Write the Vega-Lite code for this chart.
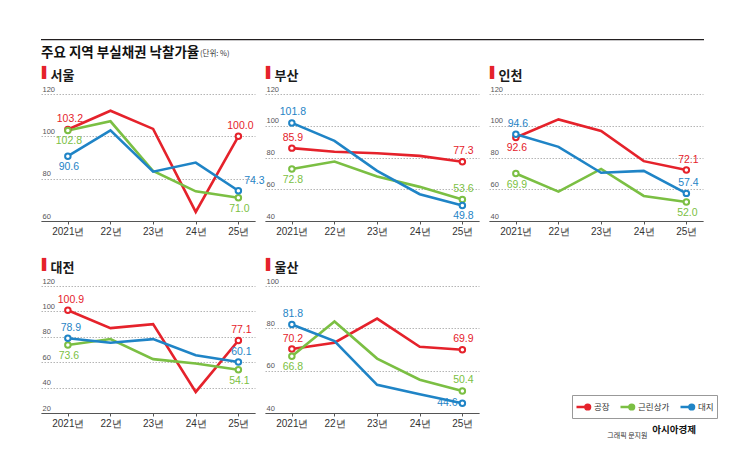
{
  "$schema": "https://vega.github.io/schema/vega-lite/v6.json",
  "background": "white",
  "padding": {"left": 41, "top": 39, "right": 0, "bottom": 0},
  "datasets": {
    "rates": [
      {"city": "서울", "type": "공장", "yr": 2021, "value": 103.2},
      {"city": "서울", "type": "공장", "yr": 2022, "value": 112.1},
      {"city": "서울", "type": "공장", "yr": 2023, "value": 103.5},
      {"city": "서울", "type": "공장", "yr": 2024, "value": 64.3},
      {"city": "서울", "type": "공장", "yr": 2025, "value": 100.0},
      {"city": "서울", "type": "근린상가", "yr": 2021, "value": 102.8},
      {"city": "서울", "type": "근린상가", "yr": 2022, "value": 107.1},
      {"city": "서울", "type": "근린상가", "yr": 2023, "value": 83.6},
      {"city": "서울", "type": "근린상가", "yr": 2024, "value": 74.0},
      {"city": "서울", "type": "근린상가", "yr": 2025, "value": 71.0},
      {"city": "서울", "type": "대지", "yr": 2021, "value": 90.6},
      {"city": "서울", "type": "대지", "yr": 2022, "value": 102.8},
      {"city": "서울", "type": "대지", "yr": 2023, "value": 83.3},
      {"city": "서울", "type": "대지", "yr": 2024, "value": 87.6},
      {"city": "서울", "type": "대지", "yr": 2025, "value": 74.3},
      {"city": "부산", "type": "공장", "yr": 2021, "value": 85.9},
      {"city": "부산", "type": "공장", "yr": 2022, "value": 83.6},
      {"city": "부산", "type": "공장", "yr": 2023, "value": 82.7},
      {"city": "부산", "type": "공장", "yr": 2024, "value": 81.0},
      {"city": "부산", "type": "공장", "yr": 2025, "value": 77.3},
      {"city": "부산", "type": "근린상가", "yr": 2021, "value": 72.8},
      {"city": "부산", "type": "근린상가", "yr": 2022, "value": 77.5},
      {"city": "부산", "type": "근린상가", "yr": 2023, "value": 68.1},
      {"city": "부산", "type": "근린상가", "yr": 2024, "value": 61.5},
      {"city": "부산", "type": "근린상가", "yr": 2025, "value": 53.6},
      {"city": "부산", "type": "대지", "yr": 2021, "value": 101.8},
      {"city": "부산", "type": "대지", "yr": 2022, "value": 90.5},
      {"city": "부산", "type": "대지", "yr": 2023, "value": 71.6},
      {"city": "부산", "type": "대지", "yr": 2024, "value": 56.9},
      {"city": "부산", "type": "대지", "yr": 2025, "value": 49.8},
      {"city": "인천", "type": "공장", "yr": 2021, "value": 92.6},
      {"city": "인천", "type": "공장", "yr": 2022, "value": 104.0},
      {"city": "인천", "type": "공장", "yr": 2023, "value": 96.7},
      {"city": "인천", "type": "공장", "yr": 2024, "value": 77.7},
      {"city": "인천", "type": "공장", "yr": 2025, "value": 72.1},
      {"city": "인천", "type": "근린상가", "yr": 2021, "value": 69.9},
      {"city": "인천", "type": "근린상가", "yr": 2022, "value": 58.5},
      {"city": "인천", "type": "근린상가", "yr": 2023, "value": 72.8},
      {"city": "인천", "type": "근린상가", "yr": 2024, "value": 55.8},
      {"city": "인천", "type": "근린상가", "yr": 2025, "value": 52.0},
      {"city": "인천", "type": "대지", "yr": 2021, "value": 94.6},
      {"city": "인천", "type": "대지", "yr": 2022, "value": 86.7},
      {"city": "인천", "type": "대지", "yr": 2023, "value": 70.4},
      {"city": "인천", "type": "대지", "yr": 2024, "value": 71.6},
      {"city": "인천", "type": "대지", "yr": 2025, "value": 57.4},
      {"city": "대전", "type": "공장", "yr": 2021, "value": 100.9},
      {"city": "대전", "type": "공장", "yr": 2022, "value": 86.8},
      {"city": "대전", "type": "공장", "yr": 2023, "value": 90.0},
      {"city": "대전", "type": "공장", "yr": 2024, "value": 36.6},
      {"city": "대전", "type": "공장", "yr": 2025, "value": 77.1},
      {"city": "대전", "type": "근린상가", "yr": 2021, "value": 73.6},
      {"city": "대전", "type": "근린상가", "yr": 2022, "value": 78.2},
      {"city": "대전", "type": "근린상가", "yr": 2023, "value": 62.4},
      {"city": "대전", "type": "근린상가", "yr": 2024, "value": 59.0},
      {"city": "대전", "type": "근린상가", "yr": 2025, "value": 54.1},
      {"city": "대전", "type": "대지", "yr": 2021, "value": 78.9},
      {"city": "대전", "type": "대지", "yr": 2022, "value": 75.3},
      {"city": "대전", "type": "대지", "yr": 2023, "value": 78.2},
      {"city": "대전", "type": "대지", "yr": 2024, "value": 65.5},
      {"city": "대전", "type": "대지", "yr": 2025, "value": 60.1},
      {"city": "울산", "type": "공장", "yr": 2021, "value": 70.2},
      {"city": "울산", "type": "공장", "yr": 2022, "value": 73.2},
      {"city": "울산", "type": "공장", "yr": 2023, "value": 84.6},
      {"city": "울산", "type": "공장", "yr": 2024, "value": 71.3},
      {"city": "울산", "type": "공장", "yr": 2025, "value": 69.9},
      {"city": "울산", "type": "근린상가", "yr": 2021, "value": 66.8},
      {"city": "울산", "type": "근린상가", "yr": 2022, "value": 83.2},
      {"city": "울산", "type": "근린상가", "yr": 2023, "value": 65.7},
      {"city": "울산", "type": "근린상가", "yr": 2024, "value": 55.7},
      {"city": "울산", "type": "근린상가", "yr": 2025, "value": 50.4},
      {"city": "울산", "type": "대지", "yr": 2021, "value": 81.8},
      {"city": "울산", "type": "대지", "yr": 2022, "value": 74.0},
      {"city": "울산", "type": "대지", "yr": 2023, "value": 53.3},
      {"city": "울산", "type": "대지", "yr": 2024, "value": 48.9},
      {"city": "울산", "type": "대지", "yr": 2025, "value": 44.6}
    ]
  },
  "config": {
    "font": "Noto Sans CJK KR",
    "view": {"stroke": null},
    "title": {"anchor": "start", "font": "Noto Sans CJK KR", "fontSize": 13, "fontWeight": "bold", "color": "#1a1a1a", "offset": -17, "dx": 9.5},
    "axisX": {"title": null, "grid": false, "domainColor": "#555", "domainWidth": 1, "tickColor": "#555", "tickSize": 3, "labelFont": "Liberation Sans", "labelFontSize": 10, "labelColor": "#333", "labelPadding": 2, "labelFlush": false, "labelOverlap": false},
    "axisY": {"domain": false, "ticks": false, "grid": true, "gridColor": "#b5b5b5", "gridDash": [1.5, 1.5], "gridWidth": 1, "labelAlign": "left", "labelBaseline": "alphabetic", "labelPadding": -1, "labelOffset": -3, "labelFont": "Liberation Sans", "labelFontSize": 7.5, "labelColor": "#555", "labelFlush": false, "labelOverlap": false, "titleFont": "DejaVu Sans", "titleFontSize": 11, "titleFontWeight": "normal", "titleColor": "#e5222b", "titleAngle": 0, "titleAlign": "left", "titleBaseline": "middle", "titleX": 0.5, "titleY": -22},
    "line": {"strokeWidth": 2.6},
    "text": {"font": "Liberation Sans", "fontSize": 10.5}
  },
  "title": {"text": "그래픽 문지원", "orient": "bottom", "anchor": "end", "fontSize": 7, "fontWeight": "normal", "color": "#333", "offset": -3, "dx": -70},
  "spacing": 6,
  "vconcat": [
    {
      "spacing": 0,
      "bounds": "flush",
      "hconcat": [
        {"width": 158, "height": 1.2, "view": {"fill": "#231f20", "stroke": null}, "data": {"values": []}, "mark": "point", "encoding": {},
         "title": {"text": "주요 지역 부실채권 낙찰가율", "orient": "bottom", "anchor": "start", "offset": 6, "dx": 0, "fontSize": 13.5, "fontWeight": "bold", "color": "#111"}},
        {"width": 505, "height": 1.2, "view": {"fill": "#231f20", "stroke": null}, "data": {"values": []}, "mark": "point", "encoding": {},
         "title": {"text": "(단위: %)", "orient": "bottom", "anchor": "start", "offset": 10, "dx": 1, "fontSize": 7.5, "fontWeight": "normal", "color": "#333"}}
      ]
    },
    {
      "columns": 3,
      "bounds": "flush",
      "spacing": {"row": 65, "column": 10},
      "concat": [
        {
          "width": 214, "height": 127, "title": "서울",
          "data": {"name": "rates"},
          "transform": [{"filter": "datum.city == '서울'"}],
          "encoding": {
            "x": {"field": "yr", "type": "quantitative", "scale": {"domain": [2020.37, 2025.39], "nice": false, "zero": false}, "axis": {"values": [2021, 2022, 2023, 2024, 2025], "title": null, "labelExpr": "datum.value == 2021 ? '2021년' : (datum.value - 2000) + '년'"}},
            "y": {"field": "value", "type": "quantitative", "scale": {"domain": [60, 120], "nice": false, "zero": false}, "axis": {"values": [60, 80, 100, 120], "title": "▌"}},
            "color": {"field": "type", "type": "nominal", "scale": {"domain": ["공장", "근린상가", "대지"], "range": ["#e5222b", "#7bbf43", "#1f84c6"]},
              "legend": {"title": null, "orient": "none", "legendX": 531, "legendY": 356, "direction": "horizontal", "strokeColor": "#999", "padding": 3, "symbolType": "M-1,0L0.27,0M0.93,0A0.33,0.33 0 1 1 0.27,0A0.33,0.33 0 1 1 0.93,0", "symbolSize": 196, "symbolStrokeWidth": 2, "symbolFillColor": "white", "labelFont": "Noto Sans CJK KR", "labelFontSize": 8.5, "labelColor": "#333", "labelOffset": 2, "columnPadding": 5}}
          },
          "layer": [
            {"mark": {"type": "line"}},
            {"transform": [{"filter": "datum.yr == 2021 || datum.yr == 2025"}], "mark": {"type": "point", "shape": "circle", "filled": false, "fill": "white", "fillOpacity": 1, "opacity": 1, "size": 30, "strokeWidth": 2}},
            {"transform": [{"filter": "(datum.yr == 2021 || datum.yr == 2025) && datum.type == '공장'"}], "mark": {"type": "text", "dy": -10.5, "dx": 2}, "encoding": {"text": {"field": "value", "type": "quantitative", "format": ".1f"}}},
            {"transform": [{"filter": "(datum.yr == 2021 || datum.yr == 2025) && (datum.type == '근린상가' || (datum.type == '대지' && datum.yr == 2021))"}], "mark": {"type": "text", "dy": 11, "dx": 1}, "encoding": {"text": {"field": "value", "type": "quantitative", "format": ".1f"}}},
            {"transform": [{"filter": "datum.yr == 2025 && datum.type == '대지'"}], "mark": {"type": "text", "dy": -10, "dx": 16}, "encoding": {"text": {"field": "value", "type": "quantitative", "format": ".1f"}}}
          ]
        },
        {
          "width": 214, "height": 127, "title": "부산",
          "data": {"name": "rates"},
          "transform": [{"filter": "datum.city == '부산'"}],
          "encoding": {
            "x": {"field": "yr", "type": "quantitative", "scale": {"domain": [2020.37, 2025.39], "nice": false, "zero": false}, "axis": {"values": [2021, 2022, 2023, 2024, 2025], "title": null, "labelExpr": "datum.value == 2021 ? '2021년' : (datum.value - 2000) + '년'"}},
            "y": {"field": "value", "type": "quantitative", "scale": {"domain": [40, 120], "nice": false, "zero": false}, "axis": {"values": [40, 60, 80, 100, 120], "title": "▌"}},
            "color": {"field": "type", "type": "nominal", "scale": {"domain": ["공장", "근린상가", "대지"], "range": ["#e5222b", "#7bbf43", "#1f84c6"]},
              "legend": {"title": null, "orient": "none", "legendX": 531, "legendY": 356, "direction": "horizontal", "strokeColor": "#999", "padding": 3, "symbolType": "M-1,0L0.27,0M0.93,0A0.33,0.33 0 1 1 0.27,0A0.33,0.33 0 1 1 0.93,0", "symbolSize": 196, "symbolStrokeWidth": 2, "symbolFillColor": "white", "labelFont": "Noto Sans CJK KR", "labelFontSize": 8.5, "labelColor": "#333", "labelOffset": 2, "columnPadding": 5}}
          },
          "layer": [
            {"mark": {"type": "line"}},
            {"transform": [{"filter": "datum.yr == 2021 || datum.yr == 2025"}], "mark": {"type": "point", "shape": "circle", "filled": false, "fill": "white", "fillOpacity": 1, "opacity": 1, "size": 30, "strokeWidth": 2}},
            {"transform": [{"filter": "(datum.yr == 2021 || datum.yr == 2025) && !(datum.type == '근린상가' && datum.yr == 2021) && !(datum.type == '대지' && datum.yr == 2025)"}], "mark": {"type": "text", "dy": -10.5, "dx": 1}, "encoding": {"text": {"field": "value", "type": "quantitative", "format": ".1f"}}},
            {"transform": [{"filter": "(datum.type == '근린상가' && datum.yr == 2021) || (datum.type == '대지' && datum.yr == 2025)"}], "mark": {"type": "text", "dy": 11, "dx": 1}, "encoding": {"text": {"field": "value", "type": "quantitative", "format": ".1f"}}}
          ]
        },
        {
          "width": 214, "height": 127, "title": "인천",
          "data": {"name": "rates"},
          "transform": [{"filter": "datum.city == '인천'"}],
          "encoding": {
            "x": {"field": "yr", "type": "quantitative", "scale": {"domain": [2020.37, 2025.39], "nice": false, "zero": false}, "axis": {"values": [2021, 2022, 2023, 2024, 2025], "title": null, "labelExpr": "datum.value == 2021 ? '2021년' : (datum.value - 2000) + '년'"}},
            "y": {"field": "value", "type": "quantitative", "scale": {"domain": [40, 120], "nice": false, "zero": false}, "axis": {"values": [40, 60, 80, 100, 120], "title": "▌"}},
            "color": {"field": "type", "type": "nominal", "scale": {"domain": ["공장", "근린상가", "대지"], "range": ["#e5222b", "#7bbf43", "#1f84c6"]},
              "legend": {"title": null, "orient": "none", "legendX": 531, "legendY": 356, "direction": "horizontal", "strokeColor": "#999", "padding": 3, "symbolType": "M-1,0L0.27,0M0.93,0A0.33,0.33 0 1 1 0.27,0A0.33,0.33 0 1 1 0.93,0", "symbolSize": 196, "symbolStrokeWidth": 2, "symbolFillColor": "white", "labelFont": "Noto Sans CJK KR", "labelFontSize": 8.5, "labelColor": "#333", "labelOffset": 2, "columnPadding": 5}}
          },
          "layer": [
            {"mark": {"type": "line"}},
            {"transform": [{"filter": "datum.yr == 2021 || datum.yr == 2025"}], "mark": {"type": "point", "shape": "circle", "filled": false, "fill": "white", "fillOpacity": 1, "opacity": 1, "size": 30, "strokeWidth": 2}},
            {"transform": [{"filter": "(datum.yr == 2021 || datum.yr == 2025) && (datum.type == '대지' || (datum.type == '공장' && datum.yr == 2025))"}], "mark": {"type": "text", "dy": -10.5, "dx": 2}, "encoding": {"text": {"field": "value", "type": "quantitative", "format": ".1f"}}},
            {"transform": [{"filter": "(datum.yr == 2021 || datum.yr == 2025) && (datum.type == '근린상가' || (datum.type == '공장' && datum.yr == 2021))"}], "mark": {"type": "text", "dy": 11, "dx": 1}, "encoding": {"text": {"field": "value", "type": "quantitative", "format": ".1f"}}}
          ]
        },
        {
          "width": 214, "height": 127, "title": "대전",
          "data": {"name": "rates"},
          "transform": [{"filter": "datum.city == '대전'"}],
          "encoding": {
            "x": {"field": "yr", "type": "quantitative", "scale": {"domain": [2020.37, 2025.39], "nice": false, "zero": false}, "axis": {"values": [2021, 2022, 2023, 2024, 2025], "title": null, "labelExpr": "datum.value == 2021 ? '2021년' : (datum.value - 2000) + '년'"}},
            "y": {"field": "value", "type": "quantitative", "scale": {"domain": [20, 120], "nice": false, "zero": false}, "axis": {"values": [20, 40, 60, 80, 100, 120], "title": "▌"}},
            "color": {"field": "type", "type": "nominal", "scale": {"domain": ["공장", "근린상가", "대지"], "range": ["#e5222b", "#7bbf43", "#1f84c6"]},
              "legend": {"title": null, "orient": "none", "legendX": 531, "legendY": 356, "direction": "horizontal", "strokeColor": "#999", "padding": 3, "symbolType": "M-1,0L0.27,0M0.93,0A0.33,0.33 0 1 1 0.27,0A0.33,0.33 0 1 1 0.93,0", "symbolSize": 196, "symbolStrokeWidth": 2, "symbolFillColor": "white", "labelFont": "Noto Sans CJK KR", "labelFontSize": 8.5, "labelColor": "#333", "labelOffset": 2, "columnPadding": 5}}
          },
          "layer": [
            {"mark": {"type": "line"}},
            {"transform": [{"filter": "datum.yr == 2021 || datum.yr == 2025"}], "mark": {"type": "point", "shape": "circle", "filled": false, "fill": "white", "fillOpacity": 1, "opacity": 1, "size": 30, "strokeWidth": 2}},
            {"transform": [{"filter": "(datum.yr == 2021 || datum.yr == 2025) && datum.type != '근린상가'"}], "mark": {"type": "text", "dy": -10.5, "dx": 3}, "encoding": {"text": {"field": "value", "type": "quantitative", "format": ".1f"}}},
            {"transform": [{"filter": "(datum.yr == 2021 || datum.yr == 2025) && datum.type == '근린상가'"}], "mark": {"type": "text", "dy": 11, "dx": 1}, "encoding": {"text": {"field": "value", "type": "quantitative", "format": ".1f"}}}
          ]
        },
        {
          "width": 214, "height": 127, "title": "울산",
          "data": {"name": "rates"},
          "transform": [{"filter": "datum.city == '울산'"}],
          "encoding": {
            "x": {"field": "yr", "type": "quantitative", "scale": {"domain": [2020.37, 2025.39], "nice": false, "zero": false}, "axis": {"values": [2021, 2022, 2023, 2024, 2025], "title": null, "labelExpr": "datum.value == 2021 ? '2021년' : (datum.value - 2000) + '년'"}},
            "y": {"field": "value", "type": "quantitative", "scale": {"domain": [40, 100], "nice": false, "zero": false}, "axis": {"values": [40, 60, 80, 100], "title": "▌"}},
            "color": {"field": "type", "type": "nominal", "scale": {"domain": ["공장", "근린상가", "대지"], "range": ["#e5222b", "#7bbf43", "#1f84c6"]},
              "legend": {"title": null, "orient": "none", "legendX": 531, "legendY": 356, "direction": "horizontal", "strokeColor": "#999", "padding": 3, "symbolType": "M-1,0L0.27,0M0.93,0A0.33,0.33 0 1 1 0.27,0A0.33,0.33 0 1 1 0.93,0", "symbolSize": 196, "symbolStrokeWidth": 2, "symbolFillColor": "white", "labelFont": "Noto Sans CJK KR", "labelFontSize": 8.5, "labelColor": "#333", "labelOffset": 2, "columnPadding": 5}}
          },
          "layer": [
            {"mark": {"type": "line"}},
            {"transform": [{"filter": "datum.yr == 2021 || datum.yr == 2025"}], "mark": {"type": "point", "shape": "circle", "filled": false, "fill": "white", "fillOpacity": 1, "opacity": 1, "size": 30, "strokeWidth": 2}},
            {"transform": [{"filter": "(datum.yr == 2021 || datum.yr == 2025) && (datum.type == '공장' || (datum.type == '근린상가' && datum.yr == 2025) || (datum.type == '대지' && datum.yr == 2021))"}], "mark": {"type": "text", "dy": -10.5, "dx": 1}, "encoding": {"text": {"field": "value", "type": "quantitative", "format": ".1f"}}},
            {"transform": [{"filter": "datum.type == '근린상가' && datum.yr == 2021"}], "mark": {"type": "text", "dy": 11, "dx": 1}, "encoding": {"text": {"field": "value", "type": "quantitative", "format": ".1f"}}},
            {"transform": [{"filter": "datum.type == '대지' && datum.yr == 2025"}], "mark": {"type": "text", "dy": 0, "dx": -15}, "encoding": {"text": {"field": "value", "type": "quantitative", "format": ".1f"}}}
          ]
        },
        {
          "width": 214, "height": 127,
          "data": {"values": []}, "mark": "point", "encoding": {},
          "title": {"text": "아시아경제", "orient": "bottom", "anchor": "end", "offset": 12, "dx": -7, "fontSize": 9.5, "fontWeight": "bold", "color": "#111"}
        }
      ]
    }
  ]
}
